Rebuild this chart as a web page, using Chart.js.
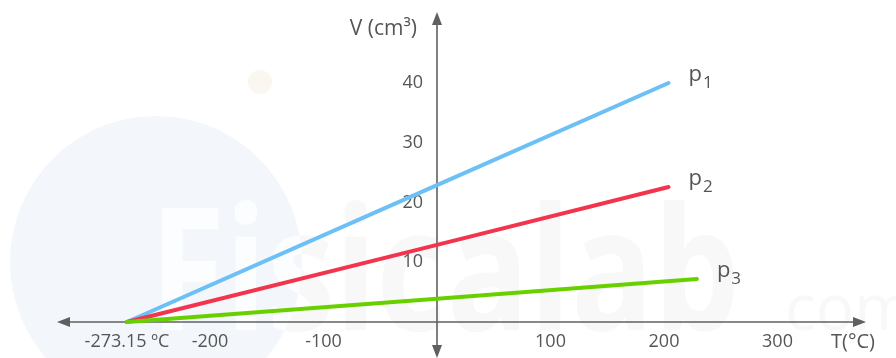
<!DOCTYPE html>
<html>
<head>
<meta charset="utf-8">
<script src="https://cdn.jsdelivr.net/npm/chart.js@4"></script>
<style>
    html, body { margin: 0; padding: 0; background: #fff; }
    #chart { display: block; }
</style>
</head>
<body>
<canvas id="chart" width="896" height="358"></canvas>
<script>
// Charles' law: V against T for three pressures, all lines meet at absolute zero
const tempP1 = [-273.15, 0, 204];
const volP1 = [0, 22.9, 40];
const tempP2 = [-273.15, 0, 204];
const volP2 = [0, 12.9, 22.6];
const tempP3 = [-273.15, 0, 229];
const volP3 = [0, 3.9, 7.2];

const seriesNames = ["p", "p", "p"];
const seriesSubs = ["1", "2", "3"];
const seriesColors = ["#6cc0f6", "#f2344d", "#69d000"];

const xTickValues = [-200, -100, 100, 200, 300];
const xTickLabels = ["-200", "-100", "100", "200", "300"];
const yTickValues = [10, 20, 30, 40];
const yTickLabels = ["10", "20", "30", "40"];
const absZeroValue = -273.15;
const absZeroLabel = "-273.15 ºC";
const xTitle = "T(°C)";
const yTitle = "V (cm³)";

const toPoints = (xs, ys) => xs.map((x, i) => ({ x: x, y: ys[i] }));

const AXIS_COLOR = "#606060";
const TEXT_COLOR = "#555";
const FONT = '"Open Sans", "Noto Sans", sans-serif';

function arrow(ctx, x, y, dir) {
    // filled triangle, tip at (x, y)
    const len = 13, half = 5;
    ctx.beginPath();
    if (dir === "up") {
        ctx.moveTo(x, y); ctx.lineTo(x - half, y + len); ctx.lineTo(x + half, y + len);
    } else if (dir === "down") {
        ctx.moveTo(x, y); ctx.lineTo(x - half, y - len); ctx.lineTo(x + half, y - len);
    } else if (dir === "left") {
        ctx.moveTo(x, y); ctx.lineTo(x + len, y - half); ctx.lineTo(x + len, y + half);
    } else {
        ctx.moveTo(x, y); ctx.lineTo(x - len, y - half); ctx.lineTo(x - len, y + half);
    }
    ctx.closePath();
    ctx.fill();
}

const axesPlugin = {
    id: "crossAxes",
    beforeDraw(chart) {
        // faint watermark in the background
        const ctx = chart.ctx;
        ctx.save();
        ctx.fillStyle = "#f3f6fb";
        ctx.beginPath();
        ctx.arc(156, 262, 146, 0, Math.PI * 2);
        ctx.fill();
        ctx.fillStyle = "#faf7f0";
        ctx.beginPath();
        ctx.arc(260, 82, 12, 0, Math.PI * 2);
        ctx.fill();
        ctx.font = "bold 170px " + FONT;
        ctx.textBaseline = "alphabetic";
        ctx.fillStyle = "#f8f8f9";
        ctx.fillText("Fisicalab", 150, 330, 590);
        ctx.font = "64px " + FONT;
        ctx.fillText("com", 785, 330);
        ctx.beginPath();
        ctx.arc(156, 262, 146, 0, Math.PI * 2);
        ctx.clip();
        ctx.fillStyle = "#fcfdfe";
        ctx.font = "bold 170px " + FONT;
        ctx.fillText("Fisicalab", 150, 330, 590);
        ctx.restore();
    },
    beforeDatasetsDraw(chart) {
        const ctx = chart.ctx;
        const xs = chart.scales.x;
        const ys = chart.scales.y;
        const x0 = xs.getPixelForValue(0);
        const y0 = ys.getPixelForValue(0);
        const area = chart.chartArea;

        ctx.save();
        ctx.strokeStyle = AXIS_COLOR;
        ctx.fillStyle = AXIS_COLOR;
        ctx.lineWidth = 1.6;

        // horizontal axis
        ctx.beginPath();
        ctx.moveTo(60, y0);
        ctx.lineTo(858, y0);
        ctx.stroke();
        arrow(ctx, 57, y0, "left");
        arrow(ctx, 866, y0, "right");

        // vertical axis
        ctx.beginPath();
        ctx.moveTo(x0, 16);
        ctx.lineTo(x0, area.bottom - 4);
        ctx.stroke();
        arrow(ctx, x0, 12, "up");
        arrow(ctx, x0, area.bottom, "down");

        // tick labels
        ctx.fillStyle = TEXT_COLOR;
        ctx.font = "18px " + FONT;
        ctx.textAlign = "center";
        ctx.textBaseline = "middle";
        xTickValues.forEach((v, i) => {
            ctx.fillText(xTickLabels[i], xs.getPixelForValue(v), y0 + 20);
        });
        ctx.fillText(absZeroLabel, xs.getPixelForValue(absZeroValue), y0 + 20);

        ctx.textAlign = "right";
        yTickValues.forEach((v, i) => {
            ctx.fillText(yTickLabels[i], x0 - 14, ys.getPixelForValue(v));
        });

        // axis titles
        ctx.font = "21px " + FONT;
        ctx.textAlign = "right";
        ctx.fillText(yTitle, x0 - 20, 29);
        ctx.textAlign = "center";
        ctx.font = "20px " + FONT;
        ctx.fillText(xTitle, 853, y0 + 20);
        ctx.restore();
    },
    afterDatasetsDraw(chart) {
        // p1, p2, p3 next to the end of each line
        const ctx = chart.ctx;
        ctx.save();
        ctx.fillStyle = TEXT_COLOR;
        ctx.textBaseline = "alphabetic";
        ctx.textAlign = "left";
        chart.data.datasets.forEach((ds, i) => {
            const meta = chart.getDatasetMeta(i);
            const last = meta.data[meta.data.length - 1];
            const px = last.x + 20;
            const py = last.y - 2;
            ctx.font = "22px " + FONT;
            ctx.fillText(seriesNames[i], px, py);
            const w = ctx.measureText(seriesNames[i]).width;
            ctx.font = "17px " + FONT;
            ctx.fillText(seriesSubs[i], px + w + 1, py + 7);
        });
        ctx.restore();
    }
};

const lineStyle = {
    borderWidth: 4,
    pointRadius: 0,
    borderCapStyle: "round",
    fill: false,
    tension: 0,
};

new Chart(document.getElementById("chart"), {
    type: "line",
    data: {
        datasets: [
            { label: "p1", data: toPoints(tempP1, volP1), borderColor: seriesColors[0], order: 3, ...lineStyle },
            { label: "p2", data: toPoints(tempP2, volP2), borderColor: seriesColors[1], order: 2, ...lineStyle },
            { label: "p3", data: toPoints(tempP3, volP3), borderColor: seriesColors[2], order: 1, ...lineStyle },
        ]
    },
    options: {
        responsive: false,
        animation: false,
        layout: { padding: 0 },
        plugins: {
            legend: { display: false },
            title: { display: false },
            tooltip: { enabled: false },
        },
        scales: {
            x: { type: "linear", min: -385, max: 404.4, display: false },
            y: { type: "linear", min: -6.03, max: 53.9, display: false },
        }
    },
    plugins: [axesPlugin]
});
</script>
</body>
</html>
